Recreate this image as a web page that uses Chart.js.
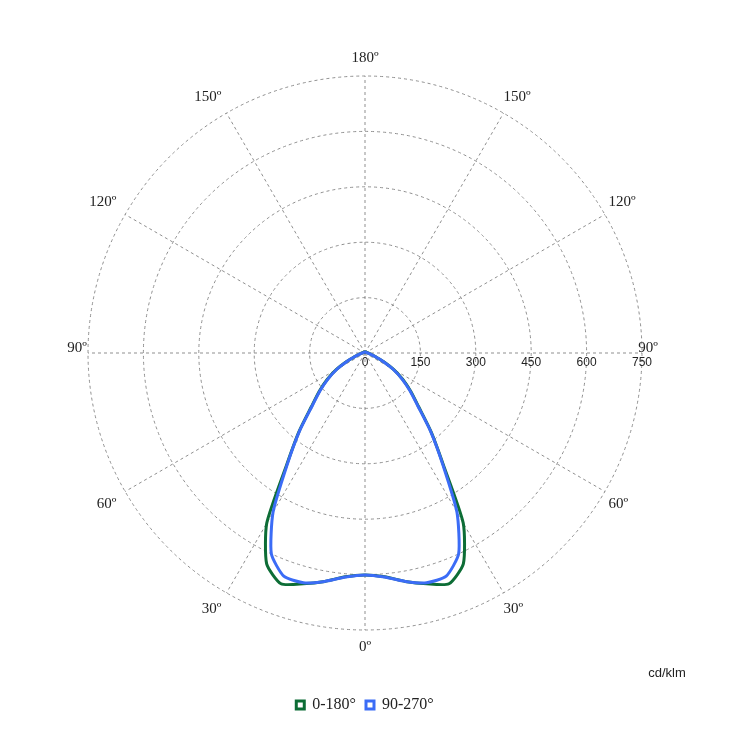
<!DOCTYPE html>
<html>
<head>
<meta charset="utf-8">
<script src="https://cdn.jsdelivr.net/npm/chart.js@4/dist/chart.umd.min.js"></script>
<style>
  body { margin: 0; background: #fff; }
  canvas { display: block; }
</style>
</head>
<body>
<canvas id="myChart" width="753" height="738"></canvas>
<script>
// setup - gamma angles (deg from nadir) and intensities in cd/klm
const gammaAngles = [0, 5, 10, 15, 20, 25, 30, 35, 40, 45, 50, 55, 60, 65, 70, 75, 80, 85, 90,
    95, 100, 105, 110, 115, 120, 125, 130, 135, 140, 145, 150, 155, 160, 165, 170, 175, 180];
const planeC0_180 = [601, 608, 628, 647, 665, 630, 532, 370, 278, 205, 162, 125, 90, 56, 31, 20, 14, 11, 9,
    7, 6, 5, 5, 4, 4, 4, 4, 3, 3, 3, 3, 3, 3, 3, 3, 3, 3];
const planeC90_270 = [601, 609, 628, 644, 643, 600, 498, 366, 276, 202, 159, 122, 88, 54, 30, 19, 13, 10, 8,
    6, 5, 5, 4, 4, 4, 3, 3, 3, 3, 3, 3, 3, 3, 3, 3, 3, 3];
const tickValues = [0, 150, 300, 450, 600, 750];
const angleLabels = [0, 30, 60, 90, 120, 150, 180];

// radar goes clockwise from the bottom: left half 0->180, right half 180->0
const labels = [];
for (let i = 0; i < 72; i++) {
    labels.push(i <= 36 ? gammaAngles[i] : gammaAngles[72 - i]);
}
const aroundCircle = (values) => labels.map(g => values[gammaAngles.indexOf(g)]);

const data = {
    labels: labels,
    datasets: [{
            label: '0-180°',
            data: aroundCircle(planeC0_180),
            borderColor: '#0d6d36',
            backgroundColor: '#ffffff',
            borderWidth: 3,
            order: 1
        },
        {
            label: '90-270°',
            data: aroundCircle(planeC90_270),
            borderColor: '#3b6cf6',
            backgroundColor: '#ffffff',
            borderWidth: 3,
            order: 0
        }
    ]
};

// text drawn around the polar grid
const polarText = {
    id: 'polarText',
    afterDraw(chart) {
        const r = chart.scales.r;
        const R = r.drawingArea;
        const ctx = chart.ctx;
        ctx.save();
        ctx.fillStyle = '#222';
        ctx.textAlign = 'center';
        ctx.textBaseline = 'middle';

        ctx.font = '12px "Liberation Sans", Arial, sans-serif';
        tickValues.forEach(v => {
            ctx.fillText(String(v), r.xCenter + r.getDistanceFromCenterForValue(v), r.yCenter + 10);
        });

        ctx.font = '15px "Liberation Serif", "Times New Roman", serif';
        const done = {};
        angleLabels.forEach(a => {
            [a / 5, (72 - a / 5) % 72].forEach(idx => {
                if (done[idx]) return;
                done[idx] = true;
                const ang = r.getIndexAngle(idx) - Math.PI / 2;
                const cx = Math.cos(ang), sy = Math.sin(ang);
                let x, y;
                if (Math.abs(sy) < 0.01) {
                    ctx.textAlign = 'center';
                    ctx.textBaseline = 'alphabetic';
                    x = r.xCenter + cx * (R + 11);
                    y = r.yCenter - 1;
                } else {
                    x = r.xCenter + cx * (R + 10);
                    y = r.yCenter + sy * (R + 10);
                    ctx.textAlign = Math.abs(cx) < 0.01 ? 'center' : (cx < 0 ? 'right' : 'left');
                    ctx.textBaseline = sy < 0 ? 'bottom' : 'top';
                }
                if (cx > 0.01) x -= 5;
                ctx.fillText(a + 'º', x, y);
            });
        });

        ctx.textAlign = 'center';
        ctx.textBaseline = 'middle';
        ctx.font = '13px "Liberation Sans", Arial, sans-serif';
        ctx.fillText('cd/klm', 667, 673);
        ctx.restore();
    }
};

// config
const config = {
    type: 'radar',
    data,
    options: {
        responsive: false,
        animation: false,
        devicePixelRatio: 1,
        layout: {
            padding: { left: 88, right: 111, top: 19, bottom: 15 }
        },
        elements: {
            point: { radius: 0, hoverRadius: 0 },
            line: { fill: false, tension: 0.2, borderJoinStyle: 'round' }
        },
        scales: {
            r: {
                min: 0,
                max: 750,
                startAngle: 180,
                beginAtZero: true,
                ticks: { display: false, stepSize: 150 },
                pointLabels: { display: false },
                grid: {
                    circular: true,
                    color: '#8f8f8f',
                    lineWidth: 1,
                    borderDash: [3, 3]
                },
                border: { dash: [3, 3] },
                angleLines: {
                    color: '#8f8f8f',
                    borderDash: [3, 3],
                    lineWidth: (c) => (c.index % 6 === 0 ? 1 : 0)
                }
            }
        },
        plugins: {
            tooltip: { enabled: false },
            legend: {
                position: 'bottom',
                labels: {
                    usePointStyle: true,
                    pointStyle: 'rect',
                    boxWidth: 8,
                    boxHeight: 8,
                    padding: 10,
                    color: '#222',
                    font: { family: '"Liberation Serif", "Times New Roman", serif', size: 16 },
                    sort: (a, b) => a.datasetIndex - b.datasetIndex
                }
            }
        }
    },
    plugins: [polarText]
};

// render init block
const myChart = new Chart(
    document.getElementById('myChart'),
    config
);
</script>
</body>
</html>
